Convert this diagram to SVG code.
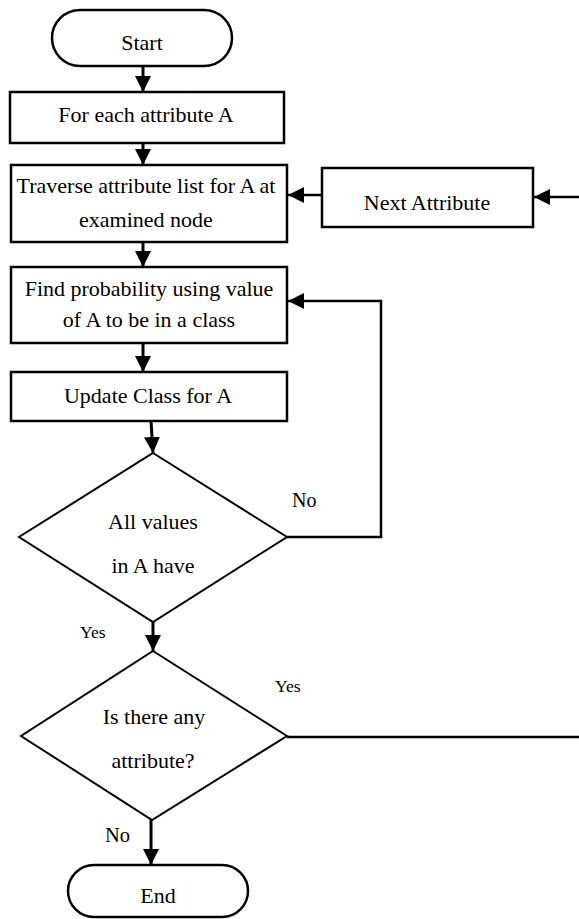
<svg xmlns="http://www.w3.org/2000/svg" width="579" height="919" viewBox="0 0 579 919">
<defs>
<style>
.shape{fill:#fff;stroke:#000;stroke-width:2.5}
.dia{fill:#fff;stroke:#000;stroke-width:2}
.t{font-family:"Liberation Serif","Times New Roman",serif;font-size:22px;fill:#000;text-anchor:middle}
.lbl{font-family:"Liberation Serif","Times New Roman",serif;fill:#000}
.c{fill:none;stroke:#000;stroke-width:2.5}
.ca{fill:none;stroke:#000;stroke-width:3;marker-end:url(#ah)}
.ch{fill:none;stroke:#000;stroke-width:2.5;marker-end:url(#ah)}
</style>
<marker id="ah" markerUnits="userSpaceOnUse" markerWidth="17" markerHeight="16" refX="16" refY="8" orient="auto">
<path d="M0,0 L16,8 L0,16 z" fill="#000"/>
</marker>
</defs>
<rect width="579" height="919" fill="#fff"/>
<g id="connectors">
<path class="ca" d="M143,66 V92"/>
<path class="ca" d="M143,143 V165"/>
<path class="ca" d="M143,242 V267"/>
<path class="ca" d="M143,343 V372"/>
<path class="ca" d="M151,421 L153,453"/>
<path class="ch" d="M287,537 H381 V301 H288"/>
<path class="ca" d="M153,622 V651"/>
<path class="c" d="M287,737 H579"/>
<path class="ch" d="M579,197 H534"/>
<path class="ch" d="M322,195 H288"/>
<path class="ca" d="M151,820 V865"/>
</g>
<g id="start">
<rect class="shape" x="52" y="10" width="180" height="56" rx="28"/>
<text class="t" x="142" y="50">Start</text>
</g>
<g id="for-each">
<rect class="shape" x="10" y="92" width="274" height="51"/>
<text class="t" x="146" y="122">For each attribute A</text>
</g>
<g id="traverse">
<rect class="shape" x="11" y="165" width="276" height="77"/>
<text class="t" x="146" y="193">Traverse attribute list for A at</text>
<text class="t" x="146" y="227">examined node</text>
</g>
<g id="next-attribute">
<rect class="shape" x="322" y="168" width="211" height="59"/>
<text class="t" x="427" y="210">Next Attribute</text>
</g>
<g id="find-prob">
<rect class="shape" x="11" y="267" width="276" height="76"/>
<text class="t" x="149" y="296">Find probability using value</text>
<text class="t" x="149" y="327">of A to be in a class</text>
</g>
<g id="update">
<rect class="shape" x="11" y="372" width="276" height="49"/>
<text class="t" x="148" y="403">Update Class for A</text>
</g>
<g id="all-values">
<polygon class="dia" points="153,453 287,537 153,622 19,537"/>
<text class="t" x="153" y="529">All values</text>
<text class="t" x="153" y="573">in A have</text>
<text class="lbl" x="292" y="507" font-size="20">No</text>
<text class="lbl" x="80" y="638" font-size="17.5">Yes</text>
</g>
<g id="any-attribute">
<polygon class="dia" points="153,651 287,736 152,820 21,736"/>
<text class="t" x="154" y="724">Is there any</text>
<text class="t" x="153" y="768">attribute?</text>
<text class="lbl" x="275" y="692" font-size="17.5">Yes</text>
<text class="lbl" x="105" y="842" font-size="20.5">No</text>
</g>
<g id="end">
<rect class="shape" x="68" y="865" width="180" height="52" rx="26"/>
<text class="t" x="158" y="903">End</text>
</g>
</svg>
